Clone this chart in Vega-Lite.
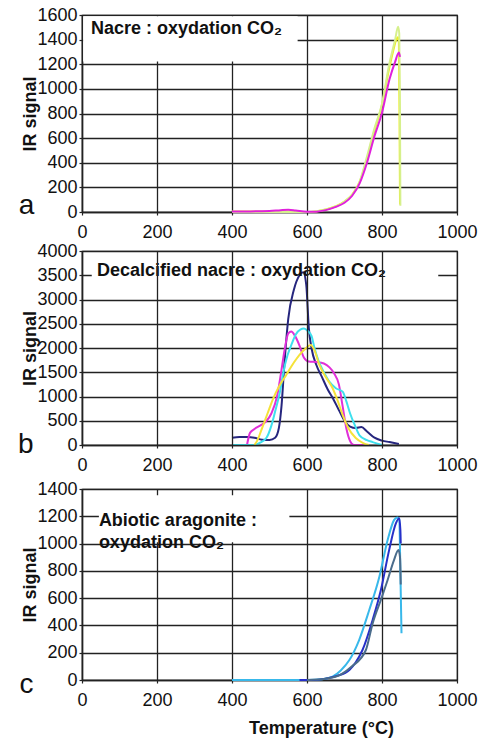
{
  "$schema": "https://vega.github.io/schema/vega-lite/v6.json",
  "padding": {"left": 17, "top": 5, "right": 0, "bottom": 0},
  "background": "white",
  "spacing": -1,
  "config": {
    "font": "Liberation Sans",
    "view": {"stroke": "#222", "strokeWidth": 1.2},
    "axis": {"labelFont": "Liberation Sans", "labelFontSize": 18, "labelColor": "#111", "format": "d", "titleFont": "Liberation Sans", "titleFontSize": 18, "titleFontWeight": "bold", "titleColor": "#111", "grid": true, "gridColor": "#222", "gridWidth": 1.3, "gridOpacity": 1, "domainColor": "#222", "domainWidth": 1.5, "tickColor": "#222", "tickSize": 3, "tickWidth": 1.2},
    "axisX": {"labelPadding": 8, "labelFlush": false},
    "axisY": {"labelPadding": 2, "titlePadding": -3},
    "line": {"strokeWidth": 2, "interpolate": "monotone"}
  },
  "resolve": {"scale": {"color": "independent"}},
  "datasets": {
    "a": [
      {"s": "a1", "T": 400, "v": 5}, {"s": "a1", "T": 450, "v": 5}, {"s": "a1", "T": 500, "v": 3}, {"s": "a1", "T": 550, "v": 5}, {"s": "a1", "T": 600, "v": 0}, {"s": "a1", "T": 625, "v": 5}, {"s": "a1", "T": 650, "v": 20}, {"s": "a1", "T": 675, "v": 45}, {"s": "a1", "T": 700, "v": 85}, {"s": "a1", "T": 720, "v": 140}, {"s": "a1", "T": 740, "v": 240}, {"s": "a1", "T": 760, "v": 430}, {"s": "a1", "T": 780, "v": 660}, {"s": "a1", "T": 800, "v": 870}, {"s": "a1", "T": 820, "v": 1180}, {"s": "a1", "T": 830, "v": 1310}, {"s": "a1", "T": 838, "v": 1400}, {"s": "a1", "T": 842, "v": 1420}, {"s": "a1", "T": 845, "v": 1380}, {"s": "a1", "T": 847, "v": 600}, {"s": "a1", "T": 848, "v": 60},
      {"s": "a2", "T": 400, "v": 0}, {"s": "a2", "T": 500, "v": 0}, {"s": "a2", "T": 600, "v": 0}, {"s": "a2", "T": 650, "v": 20}, {"s": "a2", "T": 700, "v": 85}, {"s": "a2", "T": 740, "v": 245}, {"s": "a2", "T": 760, "v": 450}, {"s": "a2", "T": 780, "v": 680}, {"s": "a2", "T": 800, "v": 880}, {"s": "a2", "T": 820, "v": 1210}, {"s": "a2", "T": 835, "v": 1400}, {"s": "a2", "T": 843, "v": 1505}, {"s": "a2", "T": 846, "v": 1450}, {"s": "a2", "T": 848, "v": 800}, {"s": "a2", "T": 849, "v": 50},
      {"s": "a3", "T": 400, "v": 5}, {"s": "a3", "T": 450, "v": 5}, {"s": "a3", "T": 500, "v": 8}, {"s": "a3", "T": 530, "v": 15}, {"s": "a3", "T": 550, "v": 18}, {"s": "a3", "T": 570, "v": 12}, {"s": "a3", "T": 600, "v": 2}, {"s": "a3", "T": 625, "v": 3}, {"s": "a3", "T": 650, "v": 15}, {"s": "a3", "T": 675, "v": 40}, {"s": "a3", "T": 700, "v": 75}, {"s": "a3", "T": 720, "v": 130}, {"s": "a3", "T": 740, "v": 230}, {"s": "a3", "T": 760, "v": 400}, {"s": "a3", "T": 780, "v": 617}, {"s": "a3", "T": 800, "v": 807}, {"s": "a3", "T": 820, "v": 1078}, {"s": "a3", "T": 835, "v": 1220}, {"s": "a3", "T": 845, "v": 1295}, {"s": "a3", "T": 848, "v": 1260}
    ],
    "b": [
      {"s": "b1", "T": 400, "v": 150}, {"s": "b1", "T": 420, "v": 165}, {"s": "b1", "T": 440, "v": 165}, {"s": "b1", "T": 460, "v": 150}, {"s": "b1", "T": 480, "v": 110}, {"s": "b1", "T": 500, "v": 105}, {"s": "b1", "T": 515, "v": 150}, {"s": "b1", "T": 525, "v": 350}, {"s": "b1", "T": 532, "v": 800}, {"s": "b1", "T": 540, "v": 1700}, {"s": "b1", "T": 550, "v": 2600}, {"s": "b1", "T": 565, "v": 3200}, {"s": "b1", "T": 580, "v": 3500}, {"s": "b1", "T": 590, "v": 3560}, {"s": "b1", "T": 598, "v": 3300}, {"s": "b1", "T": 605, "v": 2400}, {"s": "b1", "T": 612, "v": 2000}, {"s": "b1", "T": 625, "v": 1650}, {"s": "b1", "T": 640, "v": 1400}, {"s": "b1", "T": 655, "v": 1150}, {"s": "b1", "T": 670, "v": 950}, {"s": "b1", "T": 685, "v": 720}, {"s": "b1", "T": 700, "v": 500}, {"s": "b1", "T": 715, "v": 380}, {"s": "b1", "T": 730, "v": 350}, {"s": "b1", "T": 745, "v": 370}, {"s": "b1", "T": 760, "v": 280}, {"s": "b1", "T": 780, "v": 150}, {"s": "b1", "T": 800, "v": 90}, {"s": "b1", "T": 820, "v": 60}, {"s": "b1", "T": 845, "v": 20},
      {"s": "b2", "T": 440, "v": 0}, {"s": "b2", "T": 448, "v": 250}, {"s": "b2", "T": 460, "v": 330}, {"s": "b2", "T": 475, "v": 400}, {"s": "b2", "T": 490, "v": 480}, {"s": "b2", "T": 505, "v": 650}, {"s": "b2", "T": 520, "v": 1000}, {"s": "b2", "T": 530, "v": 1450}, {"s": "b2", "T": 540, "v": 1950}, {"s": "b2", "T": 550, "v": 2300}, {"s": "b2", "T": 558, "v": 2340}, {"s": "b2", "T": 568, "v": 2250}, {"s": "b2", "T": 580, "v": 2050}, {"s": "b2", "T": 592, "v": 1800}, {"s": "b2", "T": 605, "v": 1720}, {"s": "b2", "T": 625, "v": 1710}, {"s": "b2", "T": 645, "v": 1680}, {"s": "b2", "T": 660, "v": 1600}, {"s": "b2", "T": 672, "v": 1480}, {"s": "b2", "T": 685, "v": 1250}, {"s": "b2", "T": 695, "v": 800}, {"s": "b2", "T": 705, "v": 340}, {"s": "b2", "T": 715, "v": 80}, {"s": "b2", "T": 725, "v": 0}, {"s": "b2", "T": 750, "v": 0},
      {"s": "b3", "T": 400, "v": 0}, {"s": "b3", "T": 460, "v": 0}, {"s": "b3", "T": 475, "v": 50}, {"s": "b3", "T": 492, "v": 150}, {"s": "b3", "T": 505, "v": 400}, {"s": "b3", "T": 515, "v": 690}, {"s": "b3", "T": 528, "v": 1100}, {"s": "b3", "T": 537, "v": 1500}, {"s": "b3", "T": 548, "v": 1850}, {"s": "b3", "T": 558, "v": 2060}, {"s": "b3", "T": 570, "v": 2280}, {"s": "b3", "T": 582, "v": 2380}, {"s": "b3", "T": 592, "v": 2400}, {"s": "b3", "T": 602, "v": 2350}, {"s": "b3", "T": 612, "v": 2250}, {"s": "b3", "T": 620, "v": 2000}, {"s": "b3", "T": 630, "v": 1750}, {"s": "b3", "T": 645, "v": 1500}, {"s": "b3", "T": 660, "v": 1300}, {"s": "b3", "T": 677, "v": 1170}, {"s": "b3", "T": 695, "v": 1100}, {"s": "b3", "T": 705, "v": 900}, {"s": "b3", "T": 715, "v": 650}, {"s": "b3", "T": 728, "v": 400}, {"s": "b3", "T": 740, "v": 200}, {"s": "b3", "T": 760, "v": 100}, {"s": "b3", "T": 775, "v": 60}, {"s": "b3", "T": 800, "v": 0},
      {"s": "b4", "T": 460, "v": 0}, {"s": "b4", "T": 468, "v": 100}, {"s": "b4", "T": 478, "v": 300}, {"s": "b4", "T": 490, "v": 550}, {"s": "b4", "T": 500, "v": 760}, {"s": "b4", "T": 510, "v": 960}, {"s": "b4", "T": 525, "v": 1200}, {"s": "b4", "T": 545, "v": 1450}, {"s": "b4", "T": 565, "v": 1700}, {"s": "b4", "T": 580, "v": 1860}, {"s": "b4", "T": 595, "v": 1980}, {"s": "b4", "T": 610, "v": 2060}, {"s": "b4", "T": 620, "v": 1950}, {"s": "b4", "T": 633, "v": 1650}, {"s": "b4", "T": 650, "v": 1400}, {"s": "b4", "T": 668, "v": 1175}, {"s": "b4", "T": 680, "v": 950}, {"s": "b4", "T": 695, "v": 620}, {"s": "b4", "T": 710, "v": 350}, {"s": "b4", "T": 730, "v": 144}, {"s": "b4", "T": 750, "v": 40}, {"s": "b4", "T": 765, "v": 0}
    ],
    "c": [
      {"s": "c1", "T": 400, "v": 0}, {"s": "c1", "T": 500, "v": 0}, {"s": "c1", "T": 600, "v": 0}, {"s": "c1", "T": 640, "v": 5}, {"s": "c1", "T": 668, "v": 24}, {"s": "c1", "T": 690, "v": 70}, {"s": "c1", "T": 713, "v": 146}, {"s": "c1", "T": 739, "v": 293}, {"s": "c1", "T": 766, "v": 513}, {"s": "c1", "T": 793, "v": 757}, {"s": "c1", "T": 815, "v": 1026}, {"s": "c1", "T": 832, "v": 1172}, {"s": "c1", "T": 841, "v": 1192}, {"s": "c1", "T": 846, "v": 1180}, {"s": "c1", "T": 849, "v": 800}, {"s": "c1", "T": 852, "v": 342},
      {"s": "c2", "T": 580, "v": 0}, {"s": "c2", "T": 620, "v": 0}, {"s": "c2", "T": 650, "v": 10}, {"s": "c2", "T": 680, "v": 30}, {"s": "c2", "T": 713, "v": 73}, {"s": "c2", "T": 730, "v": 130}, {"s": "c2", "T": 748, "v": 220}, {"s": "c2", "T": 775, "v": 440}, {"s": "c2", "T": 797, "v": 659}, {"s": "c2", "T": 819, "v": 952}, {"s": "c2", "T": 837, "v": 1148}, {"s": "c2", "T": 846, "v": 1185}, {"s": "c2", "T": 849, "v": 1100}, {"s": "c2", "T": 850, "v": 1000},
      {"s": "c3", "T": 600, "v": 0}, {"s": "c3", "T": 650, "v": 10}, {"s": "c3", "T": 690, "v": 40}, {"s": "c3", "T": 720, "v": 100}, {"s": "c3", "T": 757, "v": 220}, {"s": "c3", "T": 775, "v": 415}, {"s": "c3", "T": 800, "v": 610}, {"s": "c3", "T": 815, "v": 733}, {"s": "c3", "T": 832, "v": 879}, {"s": "c3", "T": 844, "v": 952}, {"s": "c3", "T": 848, "v": 900}, {"s": "c3", "T": 850, "v": 700}
    ]
  },
  "vconcat": [
    {
      "width": 375, "height": 197,
      "layer": [
        {"data": {"values": [{}]}, "mark": {"type": "rect", "color": "white"},
         "encoding": {"x": {"datum": 3, "scale": {"domain": [0, 1000], "nice": false}, "axis": {"title": null, "values": [0, 200, 400, 600, 800, 1000], "zindex": 0}}, "x2": {"datum": 575}, "y": {"datum": 1222, "scale": {"domain": [0, 1600], "nice": false}, "axis": {"title": "IR signal", "values": [0, 200, 400, 600, 800, 1000, 1200, 1400, 1600], "zindex": 0}}, "y2": {"datum": 1590}}},
        {"data": {"name": "a"}, "mark": "line",
         "encoding": {
           "x": {"field": "T", "type": "quantitative", "scale": {"domain": [0, 1000], "nice": false}, "axis": {"title": null, "values": [0, 200, 400, 600, 800, 1000], "zindex": 0}},
           "y": {"field": "v", "type": "quantitative", "scale": {"domain": [0, 1600], "nice": false}, "axis": {"title": "IR signal", "values": [0, 200, 400, 600, 800, 1000, 1200, 1400, 1600], "zindex": 0}},
           "color": {"field": "s", "type": "nominal", "scale": {"domain": ["a2", "a1", "a3"], "range": ["#d6f08c", "#eeee20", "#e020dc"]}, "legend": null}}},
        {"data": {"values": [{}]}, "mark": {"type": "text", "align": "left", "baseline": "middle", "fontSize": 18, "fontWeight": "bold", "color": "#111"},
         "encoding": {"x": {"datum": 24, "scale": {"domain": [0, 1000], "nice": false}, "axis": {"title": null, "values": [0, 200, 400, 600, 800, 1000], "zindex": 0}}, "y": {"datum": 1490, "scale": {"domain": [0, 1600], "nice": false}, "axis": {"title": "IR signal", "values": [0, 200, 400, 600, 800, 1000, 1200, 1400, 1600], "zindex": 0}}, "text": {"value": "Nacre : oxydation CO₂"}}},
        {"data": {"values": [{}]}, "mark": {"type": "text", "align": "center", "baseline": "alphabetic", "fontSize": 28, "color": "#111"},
         "encoding": {"x": {"datum": -148, "scale": {"domain": [0, 1000], "nice": false}, "axis": {"title": null, "values": [0, 200, 400, 600, 800, 1000], "zindex": 0}}, "y": {"datum": -16, "scale": {"domain": [0, 1600], "nice": false}, "axis": {"title": "IR signal", "values": [0, 200, 400, 600, 800, 1000, 1200, 1400, 1600], "zindex": 0}}, "text": {"value": "a"}}}
      ]
    },
    {
      "width": 375, "height": 194,
      "layer": [
        {"data": {"values": [{}]}, "mark": {"type": "rect", "color": "white"},
         "encoding": {"x": {"datum": 26, "scale": {"domain": [0, 1000], "nice": false}, "axis": {"title": " ", "titleFontSize": 5, "titlePadding": 0, "values": [0, 200, 400, 600, 800, 1000], "zindex": 1}}, "x2": {"datum": 950}, "y": {"datum": 3430, "scale": {"domain": [0, 4000], "nice": false}, "axis": {"title": "IR signal", "values": [0, 500, 1000, 1500, 2000, 2500, 3000, 3500, 4000], "zindex": 0}}, "y2": {"datum": 3570}}},
        {"data": {"name": "b"}, "mark": "line",
         "encoding": {
           "x": {"field": "T", "type": "quantitative", "scale": {"domain": [0, 1000], "nice": false}, "axis": {"title": " ", "titleFontSize": 5, "titlePadding": 0, "values": [0, 200, 400, 600, 800, 1000], "zindex": 1}},
           "y": {"field": "v", "type": "quantitative", "scale": {"domain": [0, 4000], "nice": false}, "axis": {"title": "IR signal", "values": [0, 500, 1000, 1500, 2000, 2500, 3000, 3500, 4000], "zindex": 0}},
           "color": {"field": "s", "type": "nominal", "scale": {"domain": ["b4", "b3", "b2", "b1"], "range": ["#f5e23a", "#3ee0ee", "#e030d8", "#26267e"]}, "legend": null}}},
        {"data": {"values": [{}]}, "mark": {"type": "text", "align": "left", "baseline": "middle", "fontSize": 18, "fontWeight": "bold", "color": "#111"},
         "encoding": {"x": {"datum": 40, "scale": {"domain": [0, 1000], "nice": false}, "axis": {"title": " ", "titleFontSize": 5, "titlePadding": 0, "values": [0, 200, 400, 600, 800, 1000], "zindex": 1}}, "y": {"datum": 3594, "scale": {"domain": [0, 4000], "nice": false}, "axis": {"title": "IR signal", "values": [0, 500, 1000, 1500, 2000, 2500, 3000, 3500, 4000], "zindex": 0}}, "text": {"value": "Decalcified nacre : oxydation CO₂"}}},
        {"data": {"values": [{}]}, "mark": {"type": "text", "align": "center", "baseline": "alphabetic", "fontSize": 28, "color": "#111"},
         "encoding": {"x": {"datum": -150, "scale": {"domain": [0, 1000], "nice": false}, "axis": {"title": " ", "titleFontSize": 5, "titlePadding": 0, "values": [0, 200, 400, 600, 800, 1000], "zindex": 1}}, "y": {"datum": -165, "scale": {"domain": [0, 4000], "nice": false}, "axis": {"title": "IR signal", "values": [0, 500, 1000, 1500, 2000, 2500, 3000, 3500, 4000], "zindex": 0}}, "text": {"value": "b"}}}
      ]
    },
    {
      "width": 375, "height": 191,
      "layer": [
        {"data": {"values": [{}]}, "mark": {"type": "rect", "color": "white"},
         "encoding": {"x": {"datum": 45, "scale": {"domain": [0, 1000], "nice": false}, "axis": {"title": "Temperature (°C)", "titleX": 239, "titleAlign": "center", "titlePadding": 10, "values": [0, 200, 400, 600, 800, 1000], "zindex": 0}}, "x2": {"datum": 553}, "y": {"datum": 1010, "scale": {"domain": [0, 1400], "nice": false}, "axis": {"title": "IR signal", "values": [0, 200, 400, 600, 800, 1000, 1200, 1400], "zindex": 0}}, "y2": {"datum": 1355}}},
        {"data": {"name": "c"}, "mark": "line",
         "encoding": {
           "x": {"field": "T", "type": "quantitative", "scale": {"domain": [0, 1000], "nice": false}, "axis": {"title": "Temperature (°C)", "titleX": 239, "titleAlign": "center", "titlePadding": 10, "values": [0, 200, 400, 600, 800, 1000], "zindex": 0}},
           "y": {"field": "v", "type": "quantitative", "scale": {"domain": [0, 1400], "nice": false}, "axis": {"title": "IR signal", "values": [0, 200, 400, 600, 800, 1000, 1200, 1400], "zindex": 0}},
           "color": {"field": "s", "type": "nominal", "scale": {"domain": ["c3", "c2", "c1"], "range": ["#4a6c8c", "#2630c8", "#38b8ea"]}, "legend": null}}},
        {"data": {"values": [{}]}, "mark": {"type": "text", "align": "left", "baseline": "middle", "fontSize": 18, "fontWeight": "bold", "color": "#111", "lineHeight": 22},
         "encoding": {"x": {"datum": 45, "scale": {"domain": [0, 1000], "nice": false}, "axis": {"title": "Temperature (°C)", "titleX": 239, "titleAlign": "center", "titlePadding": 10, "values": [0, 200, 400, 600, 800, 1000], "zindex": 0}}, "y": {"datum": 1166, "scale": {"domain": [0, 1400], "nice": false}, "axis": {"title": "IR signal", "values": [0, 200, 400, 600, 800, 1000, 1200, 1400], "zindex": 0}}, "text": {"value": ["Abiotic aragonite :", "oxydation CO₂"]}}},
        {"data": {"values": [{}]}, "mark": {"type": "text", "align": "center", "baseline": "alphabetic", "fontSize": 28, "color": "#111"},
         "encoding": {"x": {"datum": -148, "scale": {"domain": [0, 1000], "nice": false}, "axis": {"title": "Temperature (°C)", "titleX": 239, "titleAlign": "center", "titlePadding": 10, "values": [0, 200, 400, 600, 800, 1000], "zindex": 0}}, "y": {"datum": -95, "scale": {"domain": [0, 1400], "nice": false}, "axis": {"title": "IR signal", "values": [0, 200, 400, 600, 800, 1000, 1200, 1400], "zindex": 0}}, "text": {"value": "c"}}}
      ]
    }
  ]
}
